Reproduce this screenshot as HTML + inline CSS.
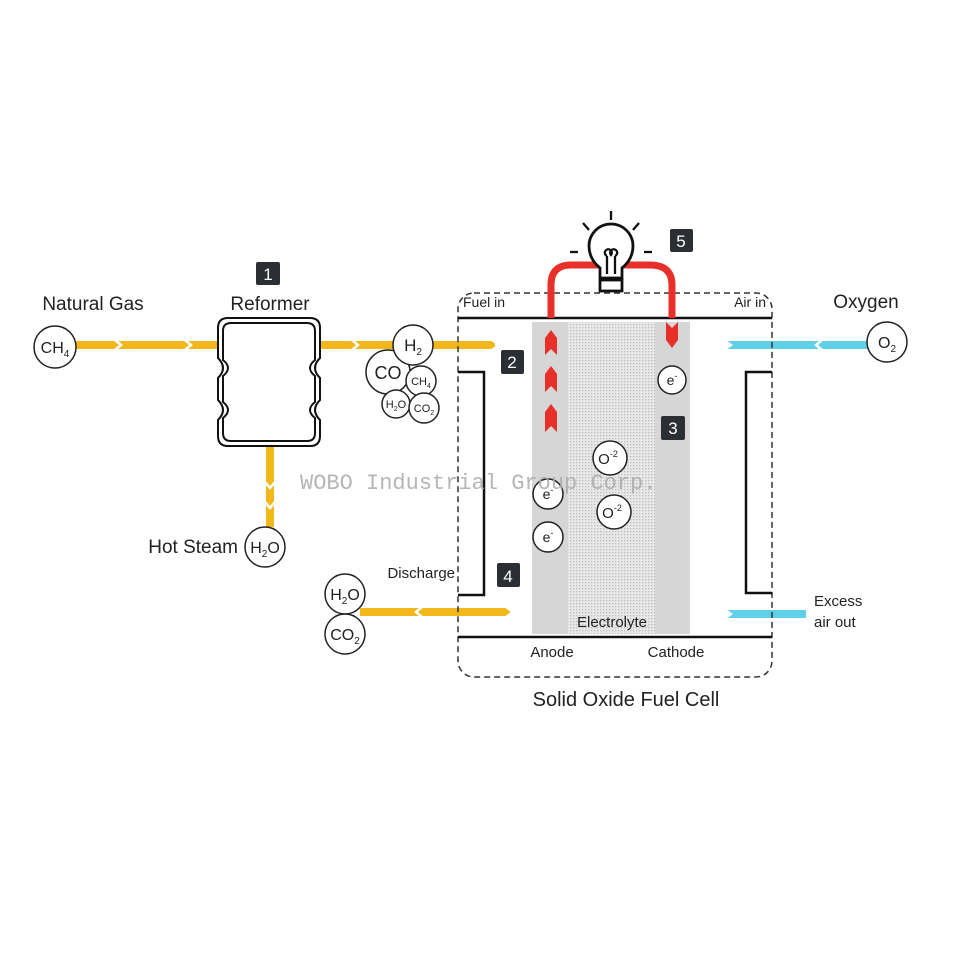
<!DOCTYPE html>
<html><head><style>body{margin:0;background:#fff}svg{display:block}text{font-family:"Liberation Sans",sans-serif;fill:#222}</style></head>
<body>
<svg width="960" height="960" viewBox="0 0 960 960" xmlns="http://www.w3.org/2000/svg">
<defs><pattern id="dots" width="3" height="3" patternUnits="userSpaceOnUse"><rect width="3" height="3" fill="#e8e8e8"/><rect width="1.3" height="1.3" fill="#bdbdbd"/></pattern></defs>
<g stroke="#f2b71b" stroke-width="8" fill="none">
<line x1="75" y1="345" x2="220" y2="345"/>
<line x1="320" y1="345" x2="495" y2="345"/>
<line x1="270" y1="446" x2="270" y2="527"/>
<line x1="360" y1="612" x2="510" y2="612"/>
</g>
<g fill="#fff">
<polygon points="113,340 119,345 113,350 117,350 123,345 117,340"/>
<polygon points="183,340 189,345 183,350 187,350 193,345 187,340"/>
<polygon points="350,340 356,345 350,350 354,350 360,345 354,340"/>
<polygon points="265,480 270,486 275,480 275,484 270,490 265,484"/>
<polygon points="265,500 270,506 275,500 275,504 270,510 265,504"/>
<polygon points="420,607 414,612 420,617 424,617 418,612 424,607"/>
<polygon points="490,340 497,345 490,350 500,350 500,340"/>
<polygon points="504,607 511,612 504,617 515,617 515,607"/>
</g>
<g stroke="#5fd0ea" stroke-width="8" fill="none">
<line x1="728" y1="345" x2="868" y2="345"/>
<line x1="728" y1="614" x2="806" y2="614"/>
<line x1="575" y1="480" x2="645" y2="443"/>
<line x1="580" y1="532" x2="648" y2="490"/>
</g>
<g fill="#fff"><polygon points="820,340 814,345 820,350 824,350 818,345 824,340"/><polygon points="726,340 733,345 726,350"/><polygon points="726,609 733,614 726,619"/></g>
<rect x="532" y="322" width="36" height="312" fill="#d6d6d6"/>
<rect x="568" y="322" width="87" height="312" fill="url(#dots)"/>
<rect x="655" y="322" width="35" height="312" fill="#d6d6d6"/>
<rect x="458" y="293" width="314" height="384" rx="16" fill="none" stroke="#333" stroke-width="1.5" stroke-dasharray="6,4"/>
<g stroke="#111" stroke-width="2.5" fill="none">
<line x1="458" y1="318" x2="772" y2="318"/>
<line x1="458" y1="637" x2="772" y2="637"/>
<polyline points="458,372 484,372 484,595 458,595"/>
<polyline points="772,372 746,372 746,593 772,593"/>
</g>
<path d="M551,318 V285 Q551,265 571,265 H650 Q672,265 672,285 V318" stroke="#e8302a" stroke-width="7" fill="none"/>
<g fill="#e8302a">
<polygon points="545,355 545,338 551,330 557,338 557,355 551,349"/>
<polygon points="545,392 545,374 551,366 557,374 557,392 551,386"/>
<polygon points="545,432 545,412 551,404 557,412 557,432 551,426"/>
<polygon points="666,322 672,328 678,322 678,340 672,348 666,340"/>
</g>
<!-- bulb -->
<g stroke="#111" stroke-width="2.8" fill="#fff">
<path d="M600,278 V268 Q589,259 589,246 A22,22 0 1 1 633,246 Q633,259 622,268 V278 Z"/>
<rect x="600" y="280" width="22" height="11"/>
</g>
<g stroke="#111" stroke-width="2.3" fill="none">
<path d="M607,274 V256 M615,274 V256 M607,256 a3.5,3.5 0 1 1 4,-1 a3.5,3.5 0 1 1 4,1"/>
<line x1="611" y1="211" x2="611" y2="220"/><line x1="583" y1="223" x2="589" y2="230"/><line x1="639" y1="223" x2="633" y2="230"/>
<line x1="570" y1="252" x2="578" y2="252"/><line x1="644" y1="252" x2="652" y2="252"/>
</g>
<g stroke="#111" stroke-width="2" fill="#fff">
<path d="M228,318 H310 Q320,318 320,328 V358 Q310,368 320,378 V400 Q310,410 320,420 V436 Q320,446 310,446 H228 Q218,446 218,436 V420 Q228,410 218,400 V378 Q228,368 218,358 V328 Q218,318 228,318Z"/>
<path d="M231,323 H307 Q315,323 315,331 V360 Q305,368 315,376 V402 Q305,410 315,418 V433 Q315,441 307,441 H231 Q223,441 223,433 V418 Q233,410 223,402 V376 Q233,368 223,360 V331 Q223,323 231,323Z"/>
</g>
<g stroke="#222" stroke-width="1.5" fill="#fff">
<circle cx="55" cy="347" r="21"/>
<circle cx="388" cy="372" r="22"/>
<circle cx="413" cy="345" r="20"/>
<circle cx="421" cy="381" r="15"/>
<circle cx="396" cy="404" r="14"/>
<circle cx="424" cy="408" r="15"/>
<circle cx="265" cy="547" r="20"/>
<circle cx="345" cy="594" r="20"/>
<circle cx="345" cy="634" r="20"/>
<circle cx="887" cy="342" r="20"/>
<circle cx="672" cy="380" r="14"/>
<circle cx="610" cy="458" r="17"/>
<circle cx="614" cy="512" r="17"/>
<circle cx="548" cy="494" r="15"/>
<circle cx="548" cy="537" r="15"/>
</g>
<g font-size="16" text-anchor="middle">
<text x="55" y="353">CH<tspan font-size="10" dy="4">4</tspan></text>
<text x="388" y="379" font-size="18">CO</text>
<text x="413" y="351" font-size="17">H<tspan font-size="10" dy="4">2</tspan></text>
<text x="421" y="385" font-size="11">CH<tspan font-size="7" dy="3">4</tspan></text>
<text x="396" y="408" font-size="11">H<tspan font-size="7" dy="3">2</tspan><tspan dy="-3">O</tspan></text>
<text x="424" y="412" font-size="11">CO<tspan font-size="7" dy="3">2</tspan></text>
<text x="265" y="553">H<tspan font-size="10" dy="4">2</tspan><tspan dy="-4">O</tspan></text>
<text x="345" y="600">H<tspan font-size="10" dy="4">2</tspan><tspan dy="-4">O</tspan></text>
<text x="345" y="640">CO<tspan font-size="10" dy="4">2</tspan></text>
<text x="887" y="348">O<tspan font-size="10" dy="4">2</tspan></text>
<text x="672" y="385" font-size="14">e<tspan font-size="9" dy="-6">-</tspan></text>
<text x="608" y="464" font-size="15">O<tspan font-size="9" dy="-7">-2</tspan></text>
<text x="612" y="518" font-size="15">O<tspan font-size="9" dy="-7">-2</tspan></text>
<text x="548" y="499" font-size="14">e<tspan font-size="9" dy="-6">-</tspan></text>
<text x="548" y="542" font-size="14">e<tspan font-size="9" dy="-6">-</tspan></text>
</g>
<g fill="#2b2f33">
<rect x="256" y="262" width="24" height="23" rx="2"/>
<rect x="670" y="229" width="23" height="23" rx="2"/>
<rect x="501" y="350" width="23" height="24" rx="2"/>
<rect x="661" y="416" width="24" height="24" rx="2"/>
<rect x="497" y="563" width="23" height="24" rx="2"/>
</g>
<g font-size="17" text-anchor="middle">
<text x="268" y="280" style="fill:#fff">1</text>
<text x="681" y="247" style="fill:#fff">5</text>
<text x="512" y="368" style="fill:#fff">2</text>
<text x="673" y="434" style="fill:#fff">3</text>
<text x="508" y="582" style="fill:#fff">4</text>
</g>
<g font-size="19">
<text x="93" y="310" text-anchor="middle">Natural Gas</text>
<text x="270" y="310" text-anchor="middle">Reformer</text>
<text x="866" y="308" text-anchor="middle">Oxygen</text>
<text x="238" y="553" text-anchor="end">Hot Steam</text>
<text x="626" y="706" text-anchor="middle" font-size="20">Solid Oxide Fuel Cell</text>
</g>
<g font-size="14">
<text x="463" y="307">Fuel in</text>
<text x="766" y="307" text-anchor="end">Air in</text>
<text x="455" y="578" text-anchor="end" font-size="15">Discharge</text>
<text x="612" y="627" text-anchor="middle" font-size="15">Electrolyte</text>
<text x="552" y="657" text-anchor="middle" font-size="15">Anode</text>
<text x="676" y="657" text-anchor="middle" font-size="15">Cathode</text>
<text x="814" y="606" font-size="15">Excess</text>
<text x="814" y="627" font-size="15">air out</text>
</g>
<text x="300" y="489" font-size="22" style="fill:#aaaaaa;font-family:'Liberation Mono',monospace" opacity="0.85">WOBO Industrial Group Corp.</text>
</svg>
</body></html>
